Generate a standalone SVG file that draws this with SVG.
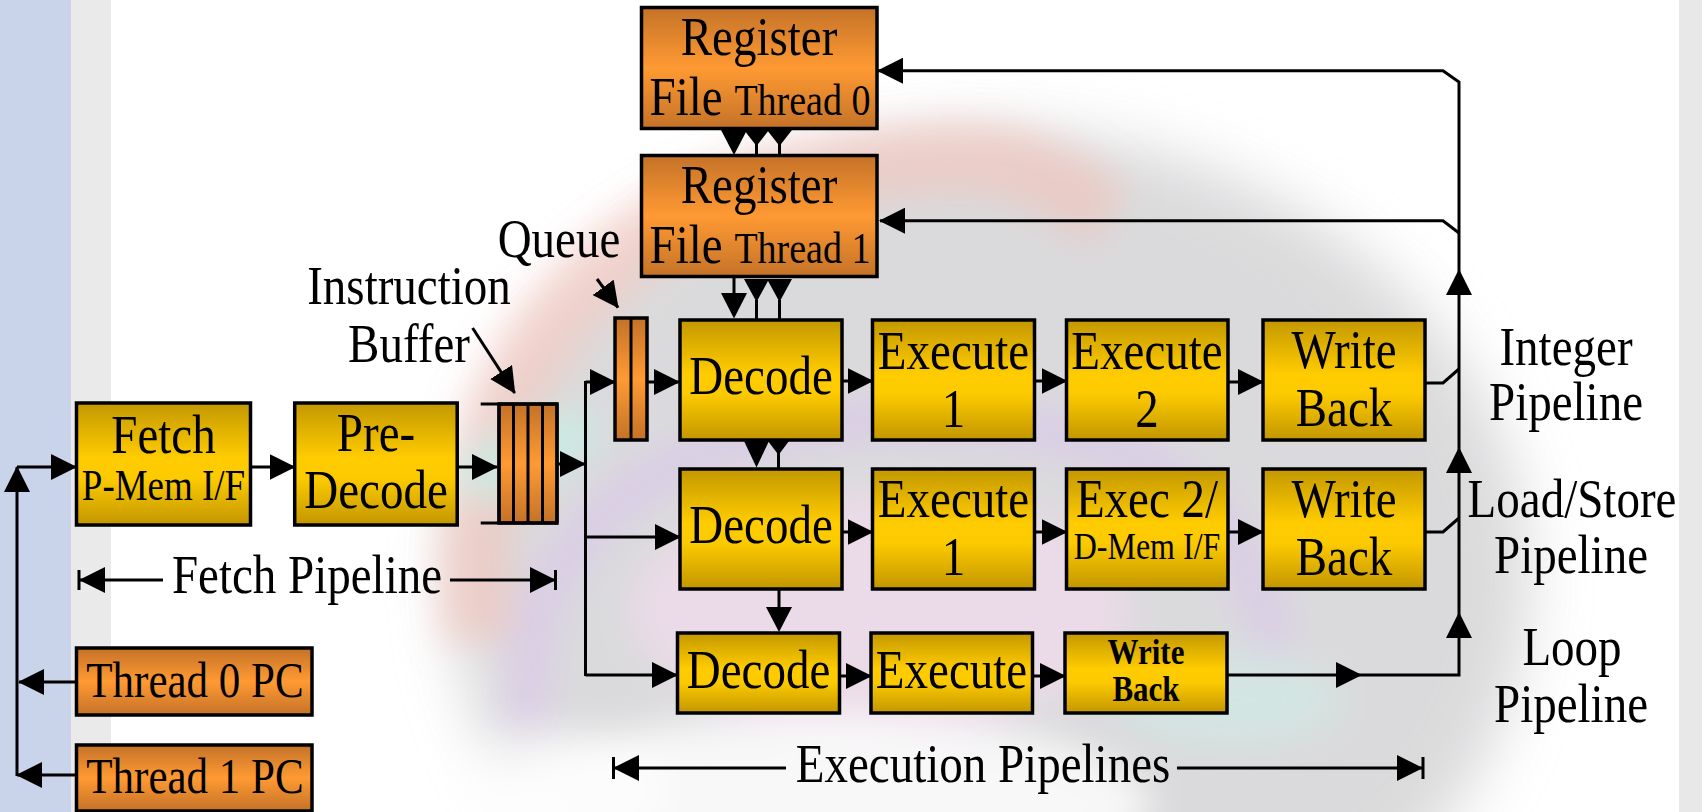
<svg xmlns="http://www.w3.org/2000/svg" width="1702" height="812" viewBox="0 0 1702 812">
  <defs>
    <linearGradient id="gy" x1="0" y1="0" x2="0" y2="1">
      <stop offset="0" stop-color="#C39800"/>
      <stop offset="0.45" stop-color="#FFCC00"/>
      <stop offset="0.62" stop-color="#FCCA00"/>
      <stop offset="1" stop-color="#C39600"/>
    </linearGradient>
    <linearGradient id="go" x1="0" y1="0" x2="0" y2="1">
      <stop offset="0" stop-color="#C47228"/>
      <stop offset="0.5" stop-color="#FF9A33"/>
      <stop offset="1" stop-color="#C47228"/>
    </linearGradient>
    <filter id="soft" x="-30%" y="-30%" width="160%" height="160%">
      <feGaussianBlur stdDeviation="18"/>
    </filter>
    <filter id="haze" x="-30%" y="-30%" width="160%" height="160%">
      <feGaussianBlur stdDeviation="30"/>
    </filter>
    <marker id="ah" markerUnits="userSpaceOnUse" markerWidth="26" markerHeight="26" viewBox="0 0 26 26" refX="25" refY="13" orient="auto">
      <path d="M0,0 L26,13 L0,26 z" fill="#000"/>
    </marker>
    <style>
      .y { fill: url(#gy); stroke: #000; stroke-width: 3.5; }
      .o { fill: url(#go); stroke: #000; stroke-width: 3.5; }
      .t { font-family: "Liberation Serif", "Times New Roman", serif; fill: #000; text-anchor: middle; font-size: 47px; }
      .s43 { font-size: 43px; }
      .s37 { font-size: 37px; }
      .s32 { font-size: 32px; }
      .wb { font-size: 31px; font-weight: bold; }
      .c { fill: none; stroke: #000; stroke-width: 3; }
      .a { fill: none; stroke: #000; stroke-width: 3; marker-end: url(#ah); }
      .h { fill: #000; }
    </style>
  </defs>

  <!-- backdrop -->
  <g id="background">
    <rect x="0" y="0" width="1702" height="812" fill="#FFFFFF"/>
    <ellipse cx="990" cy="580" rx="540" ry="450" fill="#D4D4D6" opacity="0.85" filter="url(#haze)"/>
    <g filter="url(#soft)">
      <path d="M480,640 C450,420 560,230 790,180 S1040,175 1110,215" fill="none" stroke="#F4BDB2" stroke-width="70" opacity="0.55"/>
      <path d="M530,730 C505,540 660,420 900,420 S1240,490 1275,650" fill="none" stroke="#DAC2F0" stroke-width="36" opacity="0.6"/>
      <ellipse cx="880" cy="610" rx="250" ry="120" fill="#F4DCEE" opacity="0.65"/>
      <ellipse cx="525" cy="455" rx="75" ry="30" transform="rotate(-25 525 455)" fill="#C6F0E6" opacity="0.85"/>
      <ellipse cx="1230" cy="700" rx="110" ry="45" fill="#CDEEE8" opacity="0.55"/>
      <ellipse cx="820" cy="805" rx="330" ry="90" fill="#FFFFFF" opacity="0.8"/>
      <ellipse cx="560" cy="790" rx="110" ry="60" fill="#FFFFFF" opacity="0.6"/>
    </g>
    <rect x="0" y="0" width="71" height="812" fill="#C9D3EA"/>
    <rect x="71" y="0" width="40" height="812" fill="#EAEAEA"/>
    <rect x="1679" y="0" width="23" height="812" fill="#E8E8E8"/>
  </g>

  <!-- connectors -->
  <g id="connectors">
    <!-- fetch path -->
    <path class="a" d="M250.7,467 H294.5"/>
    <path class="a" d="M457,467 H497"/>
    <path class="a" d="M558,464 H585"/>
    <path class="c" d="M585.5,381 V676"/>
    <path class="a" d="M585.5,382 H615"/>
    <path class="a" d="M647,382 H679"/>
    <path class="a" d="M585.5,537 H680"/>
    <path class="a" d="M585.5,675 H677"/>
    <!-- pipeline rows -->
    <path class="a" d="M842,381 H872.5"/>
    <path class="a" d="M1034.5,381 H1066.5"/>
    <path class="a" d="M1228,382 H1263"/>
    <path class="a" d="M842,532 H872.5"/>
    <path class="a" d="M1034.5,532 H1066.5"/>
    <path class="a" d="M1228,532 H1263"/>
    <path class="a" d="M839.5,676 H871"/>
    <path class="a" d="M1032.5,676 H1065"/>
    <!-- write-back return paths -->
    <path class="a" d="M1227,675 H1361"/>
    <path class="a" d="M1361,675 H1459 V613"/>
    <path class="a" d="M1459,613 V448"/>
    <path class="a" d="M1459,448 V270"/>
    <path class="a" d="M1459,270 V82 L1443,70.7 H878"/>
    <path class="a" d="M1459,233 L1443,220.7 H880"/>
    <path class="c" d="M1425,383 H1443 L1459,369"/>
    <path class="c" d="M1425,532 H1443 L1459,518"/>
    <!-- register file links -->
    <path class="c" d="M734,128 V132"/>
    <polygon class="h" points="721,130 747,130 734,155"/>
    <polygon class="h" points="744,130 769,130 756.5,146"/>
    <path class="c" d="M756.5,144 V156"/>
    <polygon class="h" points="767,130 792,130 779.5,146"/>
    <path class="c" d="M779.5,144 V156"/>
    <path class="c" d="M734,277 V295"/>
    <polygon class="h" points="721,293 747,293 734,318.5"/>
    <polygon class="h" points="744,279 769,279 756.5,302"/>
    <path class="c" d="M756.5,300 V320"/>
    <polygon class="h" points="767,279 792,279 779.5,302"/>
    <path class="c" d="M779.5,300 V320"/>
    <!-- decode to decode links -->
    <polygon class="h" points="744,441 769,441 756.5,467.5"/>
    <polygon class="h" points="768,441 789,441 778.5,455"/>
    <path class="c" d="M778.5,453 V470"/>
    <path class="c" d="M779,589 V610"/>
    <polygon class="h" points="766,607 792,607 779,632"/>
    <!-- thread PCs into fetch -->
    <path class="a" d="M76.5,775 H17"/>
    <path class="a" d="M76.5,682 H19"/>
    <path class="a" d="M17,776 V467"/>
    <path class="a" d="M17,467 H76"/>
    <!-- label pointers -->
    <path class="a" d="M472.6,328 L514.7,393"/>
    <path class="a" d="M597,279 L618,307.5"/>
    <!-- span markers -->
    <path class="a" d="M163,580 H80"/>
    <path class="c" d="M79,570 V590"/>
    <path class="a" d="M450,580 H555"/>
    <path class="c" d="M555.5,570 V590"/>
    <path class="a" d="M786,768 H614"/>
    <path class="c" d="M613.5,757 V779"/>
    <path class="a" d="M1177,768 H1422"/>
    <path class="c" d="M1423,757 V779"/>
  </g>

  <!-- register files (text is set tall: scaled 1.17 vertically about its baseline) -->
  <g id="regfile0">
    <rect class="o" x="641.5" y="7.5" width="235.5" height="121"/>
    <text class="t" transform="translate(759,55) scale(1,1.17)">Register</text>
    <text class="t" transform="translate(760,115) scale(1,1.17)"><tspan>File </tspan><tspan style="font-size:38px">Thread 0</tspan></text>
  </g>
  <g id="regfile1">
    <rect class="o" x="641.5" y="155.5" width="235.5" height="121"/>
    <text class="t" transform="translate(759,203) scale(1,1.17)">Register</text>
    <text class="t" transform="translate(760,263) scale(1,1.17)"><tspan>File </tspan><tspan style="font-size:38px">Thread 1</tspan></text>
  </g>

  <!-- fetch stage -->
  <g id="fetch">
    <rect class="y" x="76.5" y="403" width="174" height="122"/>
    <text class="t" transform="translate(163.5,453) scale(1,1.17)">Fetch</text>
    <text class="t s37" transform="translate(163.5,500) scale(1,1.17)">P-Mem I/F</text>
  </g>
  <g id="predecode">
    <rect class="y" x="294.7" y="403" width="162.5" height="122"/>
    <text class="t" transform="translate(376,451) scale(1,1.17)">Pre-</text>
    <text class="t" transform="translate(376,508) scale(1,1.17)">Decode</text>
  </g>
  <g id="instruction-buffer">
    <rect class="o" x="499" y="404" width="58" height="119" stroke="none"/>
    <path class="c" d="M480.7,404 H558 M480.7,523 H558 M499,404 V523 M513.5,404 V523 M528,404 V523 M542.5,404 V523 M557,404 V523" stroke-width="3.5"/>
  </g>
  <g id="queue">
    <rect class="o" x="615" y="318" width="32" height="122"/>
    <path class="c" d="M631,318 V440" stroke-width="3.5"/>
  </g>
  <g id="thread0-pc">
    <rect class="o" x="76.5" y="648" width="235.5" height="67"/>
    <text class="t s43" transform="translate(195,697) scale(1,1.17)">Thread 0 PC</text>
  </g>
  <g id="thread1-pc">
    <rect class="o" x="76.5" y="745" width="235.5" height="66"/>
    <text class="t s43" transform="translate(195,793) scale(1,1.17)">Thread 1 PC</text>
  </g>

  <!-- integer pipeline -->
  <g id="int-decode">
    <rect class="y" x="680" y="320" width="162" height="120"/>
    <text class="t" transform="translate(761,394) scale(1,1.17)">Decode</text>
  </g>
  <g id="int-exec1">
    <rect class="y" x="872.5" y="320" width="162" height="120"/>
    <text class="t" transform="translate(953.5,369) scale(1,1.17)">Execute</text>
    <text class="t" transform="translate(953.5,427) scale(1,1.17)">1</text>
  </g>
  <g id="int-exec2">
    <rect class="y" x="1066.5" y="320" width="161.5" height="120"/>
    <text class="t" transform="translate(1147,369) scale(1,1.17)">Execute</text>
    <text class="t" transform="translate(1147,427) scale(1,1.17)">2</text>
  </g>
  <g id="int-writeback">
    <rect class="y" x="1263" y="320" width="162" height="120"/>
    <text class="t" transform="translate(1344,368) scale(1,1.17)">Write</text>
    <text class="t" transform="translate(1344,426) scale(1,1.17)">Back</text>
  </g>

  <!-- load/store pipeline -->
  <g id="ls-decode">
    <rect class="y" x="680" y="469" width="162" height="120"/>
    <text class="t" transform="translate(761,543) scale(1,1.17)">Decode</text>
  </g>
  <g id="ls-exec1">
    <rect class="y" x="872.5" y="469" width="162" height="120"/>
    <text class="t" transform="translate(953.5,517) scale(1,1.17)">Execute</text>
    <text class="t" transform="translate(953.5,575) scale(1,1.17)">1</text>
  </g>
  <g id="ls-exec2">
    <rect class="y" x="1066.5" y="469" width="161.5" height="120"/>
    <text class="t" transform="translate(1147,517) scale(1,1.17)">Exec 2/</text>
    <text class="t s32" transform="translate(1147,559) scale(1,1.17)">D-Mem I/F</text>
  </g>
  <g id="ls-writeback">
    <rect class="y" x="1263" y="469" width="162" height="120"/>
    <text class="t" transform="translate(1344,517) scale(1,1.17)">Write</text>
    <text class="t" transform="translate(1344,575) scale(1,1.17)">Back</text>
  </g>

  <!-- loop pipeline -->
  <g id="loop-decode">
    <rect class="y" x="677.5" y="633" width="162" height="80"/>
    <text class="t" transform="translate(758.5,688) scale(1,1.17)">Decode</text>
  </g>
  <g id="loop-exec">
    <rect class="y" x="871" y="633" width="161.5" height="80"/>
    <text class="t" transform="translate(951.5,688) scale(1,1.17)">Execute</text>
  </g>
  <g id="loop-writeback">
    <rect class="y" x="1065" y="633" width="162" height="80"/>
    <text class="t wb" transform="translate(1146,664) scale(1,1.17)">Write</text>
    <text class="t wb" transform="translate(1146,701) scale(1,1.17)">Back</text>
  </g>

  <!-- labels -->
  <g id="labels">
    <text class="t" transform="translate(409,304) scale(1,1.17)">Instruction</text>
    <text class="t" transform="translate(409,362) scale(1,1.17)">Buffer</text>
    <text class="t" transform="translate(559,257) scale(1,1.17)">Queue</text>
    <text class="t" transform="translate(307,593) scale(1,1.17)">Fetch Pipeline</text>
    <text class="t" transform="translate(983,782) scale(1,1.17)">Execution Pipelines</text>
    <text class="t" transform="translate(1566,365) scale(1,1.17)">Integer</text>
    <text class="t" transform="translate(1566,420) scale(1,1.17)">Pipeline</text>
    <text class="t" transform="translate(1572,517) scale(1,1.17)">Load/Store</text>
    <text class="t" transform="translate(1571,573) scale(1,1.17)">Pipeline</text>
    <text class="t" transform="translate(1572,665) scale(1,1.17)">Loop</text>
    <text class="t" transform="translate(1571,722) scale(1,1.17)">Pipeline</text>
  </g>
</svg>
